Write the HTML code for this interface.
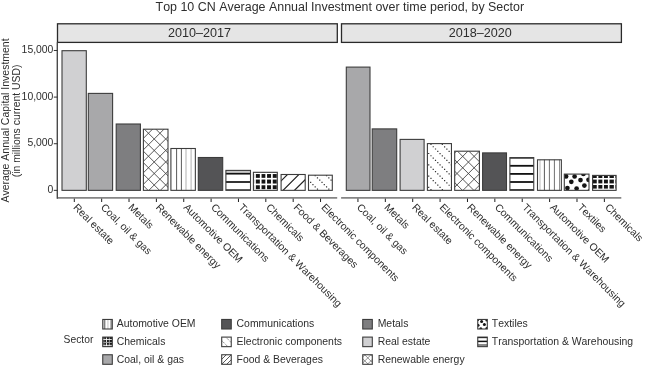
<!DOCTYPE html>
<html><head><meta charset="utf-8"><style>
html,body{margin:0;padding:0;background:#fff;width:645px;height:365px;overflow:hidden}
svg{display:block;will-change:transform;filter:blur(0.4px)}
text{font-family:"Liberation Sans",sans-serif;fill:#2e2e2e;font-kerning:none}
</style></head><body>
<svg width="645" height="365" viewBox="0 0 645 365">
<defs>
<clipPath id="c1"><rect x="143.4" y="129.2" width="24.6" height="61.15"/></clipPath>
<clipPath id="c2"><rect x="170.9" y="148.5" width="24.45" height="41.85"/></clipPath>
<clipPath id="c3"><rect x="225.9" y="170.4" width="24.6" height="19.95"/></clipPath>
<clipPath id="c4"><rect x="253.4" y="172.3" width="23.9" height="18.05"/></clipPath>
<clipPath id="c5"><rect x="281.1" y="174.5" width="24.1" height="15.85"/></clipPath>
<clipPath id="c6"><rect x="308.5" y="175.2" width="23.8" height="15.15"/></clipPath>
<clipPath id="c7"><rect x="427.4" y="143.6" width="24.05" height="46.75"/></clipPath>
<clipPath id="c8"><rect x="454.7" y="151.2" width="24.7" height="39.15"/></clipPath>
<clipPath id="c9"><rect x="509.9" y="157.6" width="23.85" height="32.75"/></clipPath>
<clipPath id="c10"><rect x="537.5" y="159.8" width="23.85" height="30.55"/></clipPath>
<clipPath id="c11"><rect x="564.3" y="174.1" width="24.7" height="16.25"/></clipPath>
<clipPath id="c12"><rect x="592.6" y="175.4" width="23.5" height="14.95"/></clipPath>
<clipPath id="c13"><rect x="102.75" y="319.45" width="9.55" height="9.55"/></clipPath>
<clipPath id="c14"><rect x="102.75" y="337.1" width="9.55" height="9.55"/></clipPath>
<clipPath id="c15"><rect x="221.7" y="337.1" width="9.55" height="9.55"/></clipPath>
<clipPath id="c16"><rect x="221.7" y="354.75" width="9.55" height="9.55"/></clipPath>
<clipPath id="c17"><rect x="362.75" y="354.75" width="9.55" height="9.55"/></clipPath>
<clipPath id="c18"><rect x="477.75" y="319.45" width="9.55" height="9.55"/></clipPath>
<clipPath id="c19"><rect x="477.75" y="337.1" width="9.55" height="9.55"/></clipPath>
</defs>
<text x="339.8" y="10.75" font-size="12.45" text-anchor="middle">Top 10 CN Average Annual Investment over time period, by Sector</text>
<text transform="translate(9.1,120.5) rotate(-90)" font-size="10.47" text-anchor="middle">Average Annual Capital Investment</text>
<text transform="translate(19.8,120.95) rotate(-90)" font-size="10.42" text-anchor="middle">(in millions current USD)</text>
<rect x="57.5" y="23.8" width="279.8" height="18.6" fill="#e5e5e5" stroke="#2a2a2a" stroke-width="1.3"/>
<text x="199.5" y="36.6" font-size="12.6" text-anchor="middle">2010–2017</text>
<path d="M57.2,197.9 H337.2" stroke="#858585" stroke-width="1.8"/>
<rect x="62" y="50.7" width="24.3" height="139.65" fill="#d0d0d2" stroke="#3c3c3c" stroke-width="1.1"/>
<path d="M74.3,198.6 V202" stroke="#1e1e1e" stroke-width="1"/>
<text transform="translate(72.7,207.9) rotate(45)" font-size="10.4">Real estate</text>
<rect x="88.3" y="93.4" width="24.3" height="96.95" fill="#a8a8aa" stroke="#3c3c3c" stroke-width="1.1"/>
<path d="M101.66,198.6 V202" stroke="#1e1e1e" stroke-width="1"/>
<text transform="translate(100.25,207.9) rotate(45)" font-size="10.4">Coal, oil &amp; gas</text>
<rect x="116.2" y="124" width="24.2" height="66.35" fill="#7e7e80" stroke="#3c3c3c" stroke-width="1.1"/>
<path d="M129.02,198.6 V202" stroke="#1e1e1e" stroke-width="1"/>
<text transform="translate(127.8,207.9) rotate(45)" font-size="10.4">Metals</text>
<rect x="143.4" y="129.2" width="24.6" height="61.15" fill="#fff"/>
<g clip-path="url(#c1)">
<path d="M140.4,141.3 L171,110.7 M140.4,152.8 L171,122.2 M140.4,164.3 L171,133.7 M140.4,175.8 L171,145.2 M140.4,187.3 L171,156.7 M140.4,198.8 L171,168.2 M140.4,210.3 L171,179.7 M140.4,182.7 L171,213.3 M140.4,171.2 L171,201.8 M140.4,159.7 L171,190.3 M140.4,148.2 L171,178.8 M140.4,136.7 L171,167.3 M140.4,125.2 L171,155.8 M140.4,113.7 L171,144.3 M140.4,102.2 L171,132.8" stroke="#3a3a3a" stroke-width="0.85" fill="none"/>
</g>
<rect x="143.4" y="129.2" width="24.6" height="61.15" fill="none" stroke="#3c3c3c" stroke-width="1.1"/>
<path d="M156.38,198.6 V202" stroke="#1e1e1e" stroke-width="1"/>
<text transform="translate(155.35,207.9) rotate(45)" font-size="10.4">Renewable energy</text>
<rect x="170.9" y="148.5" width="24.45" height="41.85" fill="#fff"/>
<g clip-path="url(#c2)">
<path d="M176.6,147.5 V191.35" stroke="#5a5a5a" stroke-width="1.0"/>
<path d="M181.4,147.5 V191.35" stroke="#5a5a5a" stroke-width="1.0"/>
<path d="M186,147.5 V191.35" stroke="#b8b8b8" stroke-width="1.1"/>
<path d="M191.1,147.5 V191.35" stroke="#b8b8b8" stroke-width="1.1"/>
</g>
<rect x="170.9" y="148.5" width="24.45" height="41.85" fill="none" stroke="#3c3c3c" stroke-width="1.1"/>
<path d="M183.74,198.6 V202" stroke="#1e1e1e" stroke-width="1"/>
<text transform="translate(182.9,207.9) rotate(45)" font-size="10.4">Automotive OEM</text>
<rect x="198.3" y="157.5" width="24.4" height="32.85" fill="#545456" stroke="#3c3c3c" stroke-width="1.1"/>
<path d="M211.1,198.6 V202" stroke="#1e1e1e" stroke-width="1"/>
<text transform="translate(210.45,207.9) rotate(45)" font-size="10.4">Communications</text>
<rect x="225.9" y="170.4" width="24.6" height="19.95" fill="#fff"/>
<g clip-path="url(#c3)">
<rect x="224.9" y="169.4" width="26.6" height="3.4" fill="#c8c8c8"/>
<rect x="224.9" y="172.85" width="26.6" height="1.7" fill="#111"/>
<rect x="224.9" y="181.15" width="26.6" height="1.7" fill="#111"/>
<rect x="224.9" y="189.35" width="26.6" height="1.7" fill="#111"/>
</g>
<rect x="225.9" y="170.4" width="24.6" height="19.95" fill="none" stroke="#3c3c3c" stroke-width="1.1"/>
<path d="M238.46,198.6 V202" stroke="#1e1e1e" stroke-width="1"/>
<text transform="translate(238,207.9) rotate(45)" font-size="10.4">Transportation &amp; Warehousing</text>
<rect x="253.4" y="172.3" width="23.9" height="18.05" fill="#fff"/>
<g clip-path="url(#c4)">
<rect x="252.4" y="171.3" width="25.9" height="20.05" fill="#151515"/>
<rect x="254.15" y="171.3" width="1.7" height="20.05" fill="#fff"/>
<rect x="259.85" y="171.3" width="1.7" height="20.05" fill="#fff"/>
<rect x="265.35" y="171.3" width="1.7" height="20.05" fill="#fff"/>
<rect x="271.05" y="171.3" width="1.7" height="20.05" fill="#fff"/>
<rect x="276.75" y="171.3" width="1.7" height="20.05" fill="#fff"/>
<rect x="252.4" y="172.35" width="25.9" height="1.7" fill="#fff"/>
<rect x="252.4" y="177.85" width="25.9" height="1.7" fill="#fff"/>
<rect x="252.4" y="183.55" width="25.9" height="1.7" fill="#fff"/>
<rect x="252.4" y="189.15" width="25.9" height="1.7" fill="#fff"/>
</g>
<rect x="253.4" y="172.3" width="23.9" height="18.05" fill="none" stroke="#3c3c3c" stroke-width="1.1"/>
<path d="M265.82,198.6 V202" stroke="#1e1e1e" stroke-width="1"/>
<text transform="translate(265.55,207.9) rotate(45)" font-size="10.4">Chemicals</text>
<rect x="281.1" y="174.5" width="24.1" height="15.85" fill="#fff"/>
<g clip-path="url(#c5)">
<path d="M278.1,183.9 L308.2,153.8 M278.1,195.3 L308.2,165.2 M278.1,206.7 L308.2,176.6 M278.1,218.1 L308.2,188" stroke="#222" stroke-width="1.2" fill="none"/>
</g>
<rect x="281.1" y="174.5" width="24.1" height="15.85" fill="none" stroke="#3c3c3c" stroke-width="1.1"/>
<path d="M293.18,198.6 V202" stroke="#1e1e1e" stroke-width="1"/>
<text transform="translate(293.1,207.9) rotate(45)" font-size="10.4">Food &amp; Beverages</text>
<rect x="308.5" y="175.2" width="23.8" height="15.15" fill="#fff"/>
<g clip-path="url(#c6)">
<path d="M303.25,186.25 h1.2 v1.2 h-1.2 z M305.52,188.52 h1.2 v1.2 h-1.2 z M307.79,190.79 h1.2 v1.2 h-1.2 z M303.25,174.95 h1.2 v1.2 h-1.2 z M305.52,177.22 h1.2 v1.2 h-1.2 z M307.79,179.49 h1.2 v1.2 h-1.2 z M310.06,181.76 h1.2 v1.2 h-1.2 z M312.33,184.03 h1.2 v1.2 h-1.2 z M314.6,186.3 h1.2 v1.2 h-1.2 z M316.87,188.57 h1.2 v1.2 h-1.2 z M319.14,190.84 h1.2 v1.2 h-1.2 z M312.33,172.73 h1.2 v1.2 h-1.2 z M314.6,175 h1.2 v1.2 h-1.2 z M316.87,177.27 h1.2 v1.2 h-1.2 z M319.14,179.54 h1.2 v1.2 h-1.2 z M321.41,181.81 h1.2 v1.2 h-1.2 z M323.68,184.08 h1.2 v1.2 h-1.2 z M325.95,186.35 h1.2 v1.2 h-1.2 z M328.22,188.62 h1.2 v1.2 h-1.2 z M330.49,190.89 h1.2 v1.2 h-1.2 z M323.68,172.78 h1.2 v1.2 h-1.2 z M325.95,175.05 h1.2 v1.2 h-1.2 z M328.22,177.32 h1.2 v1.2 h-1.2 z M330.49,179.59 h1.2 v1.2 h-1.2 z M332.76,181.86 h1.2 v1.2 h-1.2 z" fill="#333"/>
</g>
<rect x="308.5" y="175.2" width="23.8" height="15.15" fill="none" stroke="#3c3c3c" stroke-width="1.1"/>
<path d="M320.54,198.6 V202" stroke="#1e1e1e" stroke-width="1"/>
<text transform="translate(320.65,207.9) rotate(45)" font-size="10.4">Electronic components</text>
<rect x="341.5" y="23.8" width="279.9" height="18.6" fill="#e5e5e5" stroke="#2a2a2a" stroke-width="1.3"/>
<text x="480.35" y="36.6" font-size="12.6" text-anchor="middle">2018–2020</text>
<path d="M341.1,197.9 H621.3" stroke="#858585" stroke-width="1.8"/>
<rect x="346.3" y="67.1" width="23.7" height="123.25" fill="#a8a8aa" stroke="#3c3c3c" stroke-width="1.1"/>
<path d="M357.95,198.6 V202" stroke="#1e1e1e" stroke-width="1"/>
<text transform="translate(356.25,207.9) rotate(45)" font-size="10.4">Coal, oil &amp; gas</text>
<rect x="372.2" y="128.9" width="24.5" height="61.45" fill="#7e7e80" stroke="#3c3c3c" stroke-width="1.1"/>
<path d="M385.33,198.6 V202" stroke="#1e1e1e" stroke-width="1"/>
<text transform="translate(383.84,207.9) rotate(45)" font-size="10.4">Metals</text>
<rect x="400.1" y="139.4" width="24" height="50.95" fill="#d0d0d2" stroke="#3c3c3c" stroke-width="1.1"/>
<path d="M412.71,198.6 V202" stroke="#1e1e1e" stroke-width="1"/>
<text transform="translate(411.43,207.9) rotate(45)" font-size="10.4">Real estate</text>
<rect x="427.4" y="143.6" width="24.05" height="46.75" fill="#fff"/>
<g clip-path="url(#c7)">
<path d="M423.56,182.26 h1.2 v1.2 h-1.2 z M425.83,184.53 h1.2 v1.2 h-1.2 z M428.1,186.8 h1.2 v1.2 h-1.2 z M430.37,189.07 h1.2 v1.2 h-1.2 z M432.64,191.34 h1.2 v1.2 h-1.2 z M423.56,170.96 h1.2 v1.2 h-1.2 z M425.83,173.23 h1.2 v1.2 h-1.2 z M428.1,175.5 h1.2 v1.2 h-1.2 z M430.37,177.77 h1.2 v1.2 h-1.2 z M432.64,180.04 h1.2 v1.2 h-1.2 z M434.91,182.31 h1.2 v1.2 h-1.2 z M437.18,184.58 h1.2 v1.2 h-1.2 z M439.45,186.85 h1.2 v1.2 h-1.2 z M441.72,189.12 h1.2 v1.2 h-1.2 z M443.99,191.39 h1.2 v1.2 h-1.2 z M423.56,159.66 h1.2 v1.2 h-1.2 z M425.83,161.93 h1.2 v1.2 h-1.2 z M428.1,164.2 h1.2 v1.2 h-1.2 z M430.37,166.47 h1.2 v1.2 h-1.2 z M432.64,168.74 h1.2 v1.2 h-1.2 z M434.91,171.01 h1.2 v1.2 h-1.2 z M437.18,173.28 h1.2 v1.2 h-1.2 z M439.45,175.55 h1.2 v1.2 h-1.2 z M441.72,177.82 h1.2 v1.2 h-1.2 z M443.99,180.09 h1.2 v1.2 h-1.2 z M446.26,182.36 h1.2 v1.2 h-1.2 z M448.53,184.63 h1.2 v1.2 h-1.2 z M450.8,186.9 h1.2 v1.2 h-1.2 z M453.07,189.17 h1.2 v1.2 h-1.2 z M423.56,148.36 h1.2 v1.2 h-1.2 z M425.83,150.63 h1.2 v1.2 h-1.2 z M428.1,152.9 h1.2 v1.2 h-1.2 z M430.37,155.17 h1.2 v1.2 h-1.2 z M432.64,157.44 h1.2 v1.2 h-1.2 z M434.91,159.71 h1.2 v1.2 h-1.2 z M437.18,161.98 h1.2 v1.2 h-1.2 z M439.45,164.25 h1.2 v1.2 h-1.2 z M441.72,166.52 h1.2 v1.2 h-1.2 z M443.99,168.79 h1.2 v1.2 h-1.2 z M446.26,171.06 h1.2 v1.2 h-1.2 z M448.53,173.33 h1.2 v1.2 h-1.2 z M450.8,175.6 h1.2 v1.2 h-1.2 z M453.07,177.87 h1.2 v1.2 h-1.2 z M428.1,141.6 h1.2 v1.2 h-1.2 z M430.37,143.87 h1.2 v1.2 h-1.2 z M432.64,146.14 h1.2 v1.2 h-1.2 z M434.91,148.41 h1.2 v1.2 h-1.2 z M437.18,150.68 h1.2 v1.2 h-1.2 z M439.45,152.95 h1.2 v1.2 h-1.2 z M441.72,155.22 h1.2 v1.2 h-1.2 z M443.99,157.49 h1.2 v1.2 h-1.2 z M446.26,159.76 h1.2 v1.2 h-1.2 z M448.53,162.03 h1.2 v1.2 h-1.2 z M450.8,164.3 h1.2 v1.2 h-1.2 z M453.07,166.57 h1.2 v1.2 h-1.2 z M439.45,141.65 h1.2 v1.2 h-1.2 z M441.72,143.92 h1.2 v1.2 h-1.2 z M443.99,146.19 h1.2 v1.2 h-1.2 z M446.26,148.46 h1.2 v1.2 h-1.2 z M448.53,150.73 h1.2 v1.2 h-1.2 z M450.8,153 h1.2 v1.2 h-1.2 z M453.07,155.27 h1.2 v1.2 h-1.2 z M450.8,141.7 h1.2 v1.2 h-1.2 z M453.07,143.97 h1.2 v1.2 h-1.2 z" fill="#333"/>
</g>
<rect x="427.4" y="143.6" width="24.05" height="46.75" fill="none" stroke="#3c3c3c" stroke-width="1.1"/>
<path d="M440.09,198.6 V202" stroke="#1e1e1e" stroke-width="1"/>
<text transform="translate(439.02,207.9) rotate(45)" font-size="10.4">Electronic components</text>
<rect x="454.7" y="151.2" width="24.7" height="39.15" fill="#fff"/>
<g clip-path="url(#c8)">
<path d="M451.7,156 L482.4,125.3 M451.7,167.4 L482.4,136.7 M451.7,178.8 L482.4,148.1 M451.7,190.2 L482.4,159.5 M451.7,201.6 L482.4,170.9 M451.7,213 L482.4,182.3 M451.7,179.6 L482.4,210.3 M451.7,168.2 L482.4,198.9 M451.7,156.8 L482.4,187.5 M451.7,145.4 L482.4,176.1 M451.7,134 L482.4,164.7 M451.7,122.6 L482.4,153.3" stroke="#3a3a3a" stroke-width="0.85" fill="none"/>
</g>
<rect x="454.7" y="151.2" width="24.7" height="39.15" fill="none" stroke="#3c3c3c" stroke-width="1.1"/>
<path d="M467.47,198.6 V202" stroke="#1e1e1e" stroke-width="1"/>
<text transform="translate(466.61,207.9) rotate(45)" font-size="10.4">Renewable energy</text>
<rect x="482.6" y="152.9" width="23.9" height="37.45" fill="#545456" stroke="#3c3c3c" stroke-width="1.1"/>
<path d="M494.85,198.6 V202" stroke="#1e1e1e" stroke-width="1"/>
<text transform="translate(494.2,207.9) rotate(45)" font-size="10.4">Communications</text>
<rect x="509.9" y="157.6" width="23.85" height="32.75" fill="#fff"/>
<g clip-path="url(#c9)">
<rect x="508.9" y="156.8" width="25.85" height="1.8" fill="#111"/>
<rect x="508.9" y="164.9" width="25.85" height="1.8" fill="#111"/>
<rect x="508.9" y="173" width="25.85" height="1.8" fill="#111"/>
<rect x="508.9" y="181.1" width="25.85" height="1.8" fill="#111"/>
<rect x="508.9" y="189.2" width="25.85" height="1.8" fill="#111"/>
</g>
<rect x="509.9" y="157.6" width="23.85" height="32.75" fill="none" stroke="#3c3c3c" stroke-width="1.1"/>
<path d="M522.23,198.6 V202" stroke="#1e1e1e" stroke-width="1"/>
<text transform="translate(521.79,207.9) rotate(45)" font-size="10.4">Transportation &amp; Warehousing</text>
<rect x="537.5" y="159.8" width="23.85" height="30.55" fill="#fff"/>
<g clip-path="url(#c10)">
<path d="M540,158.8 V191.35" stroke="#c0c0c0" stroke-width="1.1"/>
<path d="M544.4,158.8 V191.35" stroke="#5a5a5a" stroke-width="1.0"/>
<path d="M549.4,158.8 V191.35" stroke="#707070" stroke-width="1.0"/>
<path d="M554.4,158.8 V191.35" stroke="#707070" stroke-width="1.0"/>
<path d="M559.5,158.8 V191.35" stroke="#909090" stroke-width="1.0"/>
</g>
<rect x="537.5" y="159.8" width="23.85" height="30.55" fill="none" stroke="#3c3c3c" stroke-width="1.1"/>
<path d="M549.61,198.6 V202" stroke="#1e1e1e" stroke-width="1"/>
<text transform="translate(549.38,207.9) rotate(45)" font-size="10.4">Automotive OEM</text>
<rect x="564.3" y="174.1" width="24.7" height="16.25" fill="#fff"/>
<g clip-path="url(#c11)">
<circle cx="566.1" cy="176.4" r="2.35" fill="#141414"/>
<circle cx="574.6" cy="176.5" r="2.35" fill="#141414"/>
<circle cx="583.4" cy="174" r="2.35" fill="#141414"/>
<circle cx="571.3" cy="181.8" r="2.35" fill="#141414"/>
<circle cx="580.5" cy="180.1" r="2.35" fill="#141414"/>
<circle cx="588.5" cy="179.8" r="2.35" fill="#141414"/>
<circle cx="584.4" cy="185.6" r="2.35" fill="#141414"/>
<circle cx="567.4" cy="188.1" r="2.35" fill="#141414"/>
<circle cx="576.6" cy="188.5" r="2.35" fill="#141414"/>
<circle cx="589.5" cy="191.5" r="2.35" fill="#141414"/>
</g>
<rect x="564.3" y="174.1" width="24.7" height="16.25" fill="none" stroke="#3c3c3c" stroke-width="1.1"/>
<path d="M576.99,198.6 V202" stroke="#1e1e1e" stroke-width="1"/>
<text transform="translate(576.97,207.9) rotate(45)" font-size="10.4">Textiles</text>
<rect x="592.6" y="175.4" width="23.5" height="14.95" fill="#fff"/>
<g clip-path="url(#c12)">
<rect x="591.6" y="174.4" width="25.5" height="16.95" fill="#151515"/>
<rect x="596.75" y="174.4" width="1.6" height="16.95" fill="#fff"/>
<rect x="602.35" y="174.4" width="1.6" height="16.95" fill="#fff"/>
<rect x="607.9" y="174.4" width="1.6" height="16.95" fill="#fff"/>
<rect x="613.85" y="174.4" width="1.6" height="16.95" fill="#fff"/>
<rect x="591.6" y="178" width="25.5" height="1.6" fill="#fff"/>
<rect x="591.6" y="183.4" width="25.5" height="1.6" fill="#fff"/>
<rect x="591.6" y="188.6" width="25.5" height="1.6" fill="#fff"/>
</g>
<rect x="592.6" y="175.4" width="23.5" height="14.95" fill="none" stroke="#3c3c3c" stroke-width="1.1"/>
<path d="M604.37,198.6 V202" stroke="#1e1e1e" stroke-width="1"/>
<text transform="translate(604.56,207.9) rotate(45)" font-size="10.4">Chemicals</text>
<path d="M57.3,42.4 V198.8" stroke="#4a4a4a" stroke-width="1.4"/>
<path d="M53.8,190.35 H57.5" stroke="#333" stroke-width="1"/>
<text x="53.4" y="192.85" font-size="10.4" text-anchor="end">0</text>
<path d="M53.8,143.73 H57.5" stroke="#333" stroke-width="1"/>
<text x="53.4" y="146.23" font-size="10.4" text-anchor="end">5,000</text>
<path d="M53.8,97.1 H57.5" stroke="#333" stroke-width="1"/>
<text x="53.4" y="99.6" font-size="10.4" text-anchor="end">10,000</text>
<path d="M53.8,50.48 H57.5" stroke="#333" stroke-width="1"/>
<text x="53.4" y="52.98" font-size="10.4" text-anchor="end">15,000</text>
<text x="63.6" y="342.5" font-size="10.3">Sector</text>
<rect x="102.75" y="319.45" width="9.55" height="9.55" fill="#fff"/>
<g clip-path="url(#c13)">
<path d="M103.8,318.45 V330" stroke="#bbb" stroke-width="0.8"/>
<path d="M104.8,318.45 V330" stroke="#444" stroke-width="0.9"/>
<path d="M107.95,318.45 V330" stroke="#bbb" stroke-width="0.9"/>
<path d="M111.1,318.45 V330" stroke="#444" stroke-width="0.9"/>
</g>
<rect x="102.75" y="319.45" width="9.55" height="9.55" fill="none" stroke="#3c3c3c" stroke-width="1.1"/>
<text x="116.75" y="327.3" font-size="10.43">Automotive OEM</text>
<rect x="102.75" y="337.1" width="9.55" height="9.55" fill="#fff"/>
<g clip-path="url(#c14)">
<rect x="101.75" y="336.1" width="11.55" height="11.55" fill="#151515"/>
<rect x="103.45" y="336.1" width="0.9" height="11.55" fill="#999"/>
<rect x="105.95" y="336.1" width="0.9" height="11.55" fill="#fff"/>
<rect x="108.85" y="336.1" width="0.9" height="11.55" fill="#aaa"/>
<rect x="101.75" y="338.95" width="11.55" height="0.9" fill="#fff"/>
<rect x="101.75" y="341.95" width="11.55" height="0.9" fill="#aaa"/>
<rect x="101.75" y="344.85" width="11.55" height="0.9" fill="#fff"/>
</g>
<rect x="102.75" y="337.1" width="9.55" height="9.55" fill="none" stroke="#3c3c3c" stroke-width="1.1"/>
<text x="116.75" y="344.95" font-size="10.43">Chemicals</text>
<rect x="102.75" y="354.75" width="9.55" height="9.55" fill="#a8a8aa" stroke="#3c3c3c" stroke-width="1.1"/>
<text x="116.75" y="362.6" font-size="10.43">Coal, oil &amp; gas</text>
<rect x="221.7" y="319.45" width="9.55" height="9.55" fill="#545456" stroke="#3c3c3c" stroke-width="1.1"/>
<text x="236.6" y="327.3" font-size="10.43">Communications</text>
<rect x="221.7" y="337.1" width="9.55" height="9.55" fill="#fff"/>
<g clip-path="url(#c15)">
<path d="M218.7,337.5 L234.25,353.05 M218.7,330 L234.25,345.55" stroke="#444" stroke-width="0.8" stroke-dasharray="1.1 1.1" fill="none"/>
</g>
<rect x="221.7" y="337.1" width="9.55" height="9.55" fill="none" stroke="#3c3c3c" stroke-width="1.1"/>
<text x="236.6" y="344.95" font-size="10.43">Electronic components</text>
<rect x="221.7" y="354.75" width="9.55" height="9.55" fill="#fff"/>
<g clip-path="url(#c16)">
<path d="M218.7,357.3 L234.25,341.75 M218.7,362.3 L234.25,346.75 M218.7,367.3 L234.25,351.75 M218.7,372.3 L234.25,356.75 M218.7,377.3 L234.25,361.75" stroke="#222" stroke-width="0.75" fill="none"/>
</g>
<rect x="221.7" y="354.75" width="9.55" height="9.55" fill="none" stroke="#3c3c3c" stroke-width="1.1"/>
<text x="236.6" y="362.6" font-size="10.43">Food &amp; Beverages</text>
<rect x="362.75" y="319.45" width="9.55" height="9.55" fill="#7e7e80" stroke="#3c3c3c" stroke-width="1.1"/>
<text x="377.7" y="327.3" font-size="10.43">Metals</text>
<rect x="362.75" y="337.1" width="9.55" height="9.55" fill="#d0d0d2" stroke="#3c3c3c" stroke-width="1.1"/>
<text x="377.7" y="344.95" font-size="10.43">Real estate</text>
<rect x="362.75" y="354.75" width="9.55" height="9.55" fill="#fff"/>
<g clip-path="url(#c17)">
<path d="M359.75,359.95 L375.3,344.4 M359.75,365.95 L375.3,350.4 M359.75,371.95 L375.3,356.4 M359.75,361.85 L375.3,377.4 M359.75,355.85 L375.3,371.4 M359.75,349.85 L375.3,365.4 M359.75,343.85 L375.3,359.4" stroke="#666" stroke-width="0.7" fill="none"/>
</g>
<rect x="362.75" y="354.75" width="9.55" height="9.55" fill="none" stroke="#3c3c3c" stroke-width="1.1"/>
<text x="377.7" y="362.6" font-size="10.43">Renewable energy</text>
<rect x="477.75" y="319.45" width="9.55" height="9.55" fill="#fff"/>
<g clip-path="url(#c18)">
<circle cx="477.8" cy="319.6" r="1.5" fill="#141414"/>
<circle cx="481.6" cy="321.4" r="1.5" fill="#141414"/>
<circle cx="486.8" cy="320" r="1.5" fill="#141414"/>
<circle cx="484.4" cy="324.6" r="1.5" fill="#141414"/>
<circle cx="478" cy="325.2" r="1.5" fill="#141414"/>
<circle cx="480.8" cy="328.8" r="1.5" fill="#141414"/>
<circle cx="486.8" cy="328.6" r="1.5" fill="#141414"/>
</g>
<rect x="477.75" y="319.45" width="9.55" height="9.55" fill="none" stroke="#3c3c3c" stroke-width="1.1"/>
<text x="491.8" y="327.3" font-size="10.43">Textiles</text>
<rect x="477.75" y="337.1" width="9.55" height="9.55" fill="#fff"/>
<g clip-path="url(#c19)">
<rect x="476.75" y="344" width="11.55" height="2.6" fill="#8a8a8a"/>
<rect x="476.75" y="336.65" width="11.55" height="1.5" fill="#111"/>
<rect x="476.75" y="340.65" width="11.55" height="1.5" fill="#111"/>
</g>
<rect x="477.75" y="337.1" width="9.55" height="9.55" fill="none" stroke="#3c3c3c" stroke-width="1.1"/>
<text x="491.8" y="344.95" font-size="10.43">Transportation &amp; Warehousing</text>
</svg>
</body></html>
